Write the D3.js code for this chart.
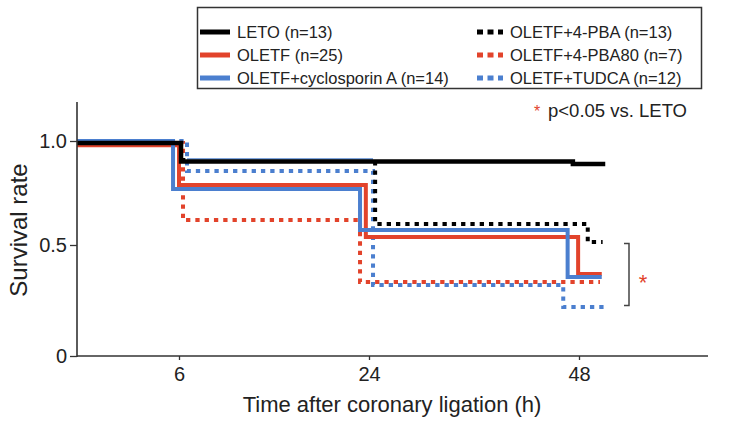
<!DOCTYPE html>
<html><head><meta charset="utf-8">
<script src="https://cdn.jsdelivr.net/npm/d3@7"></script>
<style>
body{margin:0;background:#fff}
text{font-family:Arial,"Liberation Sans",Helvetica,sans-serif;fill:#222}
</style>
</head><body>
<svg id="c" width="738" height="421"></svg>
<script>
// ---------- data ----------
const timeTicks = [6, 24, 48];
const timeTickLabels = ["6", "24", "48"];
const rateTicks = [0, 0.5, 1];
const rateTickLabels = ["0", "0.5", "1.0"];

// step curves: times at which the level changes, survival levels, end of follow-up (h)
const letoTimes = [0, 6.19, 47.3];   const letoRates = [0.99, 0.902, 0.890];  const letoEnd = 51.0;
const oletfTimes = [0, 6.0, 23.7, 47.9];  const oletfRates = [0.98, 0.788, 0.538, 0.369]; const oletfEnd = 50.6;
const csaTimes = [0, 5.65, 23.15, 46.7];  const csaRates = [1.0, 0.769, 0.572, 0.356];   const csaEnd = 50.6;
const pbaTimes = [0, 6.2, 24.7, 49.0];    const pbaRates = [0.99, 0.909, 0.601, 0.514];  const pbaEnd = 50.7;
const pba80Times = [0, 6.38, 23.15];      const pba80Rates = [0.99, 0.62, 0.333];        const pba80End = 50.4;
const tudcaTimes = [0, 6.76, 24.46, 46.2];const tudcaRates = [1.0, 0.856, 0.32, 0.221];  const tudcaEnd = 51.3;
// thin blue trace visible just above the LETO line between 6 h and 24 h
const traceTimes = [6.76];                const traceRates = [0.913];                    const traceEnd = 24.46;

const legendLabels = ["LETO (n=13)", "OLETF (n=25)", "OLETF+cyclosporin A (n=14)",
                      "OLETF+4-PBA (n=13)", "OLETF+4-PBA80 (n=7)", "OLETF+TUDCA (n=12)"];

// ---------- styles ----------
const RED = "#e2432b", BLUE = "#4b7fcf", BLACK = "#000";
const series = [
  {t: pba80Times, v: pba80Rates, end: pba80End, color: RED,   dotted: true,  w: 4},
  {t: tudcaTimes, v: tudcaRates, end: tudcaEnd, color: BLUE,  dotted: true,  w: 4},
  {t: pbaTimes,   v: pbaRates,   end: pbaEnd,   color: BLACK, dotted: true,  w: 4},
  {t: traceTimes, v: traceRates, end: traceEnd, color: "#7ea4dc", dotted: false, w: 2},
  {t: oletfTimes, v: oletfRates, end: oletfEnd, color: RED,   dotted: false, w: 4},
  {t: csaTimes,   v: csaRates,   end: csaEnd,   color: BLUE,  dotted: false, w: 4},
  {t: letoTimes,  v: letoRates,  end: letoEnd,  color: BLACK, dotted: false, w: 4.5}
];
const legendStyles = [
  {color: BLACK, dotted: false}, {color: RED, dotted: false}, {color: BLUE, dotted: false},
  {color: BLACK, dotted: true},  {color: RED, dotted: true},  {color: BLUE, dotted: true}
];

const svg = d3.select("#c");

// piecewise time axis as in the figure
const x = d3.scaleLinear().domain([0, 6, 24, 48]).range([77, 179, 369, 579]);
const y = d3.scaleLinear().domain([0, 0.5, 1]).range([356, 245, 141]);

// curves
const line = d3.line().x(d => x(d[0])).y(d => y(d[1])).curve(d3.curveStepAfter);
series.forEach(s => {
  const pts = s.t.map((t, i) => [t, s.v[i]]);
  pts.push([s.end, s.v[s.v.length - 1]]);
  svg.append("path").attr("d", line(pts))
    .attr("fill", "none").attr("stroke", s.color).attr("stroke-width", s.w)
    .attr("stroke-linecap", "butt").attr("stroke-linejoin", "miter")
    .attr("stroke-dasharray", s.dotted ? "4.3,5" : null);
});

// axes
const axisColor = "#333";
const xAxis = svg.append("g").attr("transform", "translate(0,356)")
  .call(d3.axisBottom(x).tickValues(timeTicks).tickSize(4)
    .tickFormat((d, i) => timeTickLabels[i]));
xAxis.select(".domain").remove();
xAxis.selectAll(".tick line").attr("stroke", axisColor).attr("stroke-width", 1.3);
xAxis.selectAll(".tick text").attr("y", 25).attr("dy", 0)
  .attr("font-size", 20).attr("fill", "#222").style("font-family", "Arial, 'Liberation Sans', sans-serif");
svg.append("line").attr("x1", 77).attr("x2", 708).attr("y1", 356).attr("y2", 356)
  .attr("stroke", axisColor).attr("stroke-width", 1.6);

const yAxis = svg.append("g").attr("transform", "translate(77,0)")
  .call(d3.axisLeft(y).tickValues(rateTicks).tickSize(7).tickPadding(3)
    .tickFormat((d, i) => rateTickLabels[i]));
yAxis.select(".domain").remove();
yAxis.selectAll(".tick line").attr("stroke", axisColor).attr("stroke-width", 1.3);
yAxis.selectAll(".tick text").attr("font-size", 20).attr("fill", "#222")
  .style("font-family", "Arial, 'Liberation Sans', sans-serif");
svg.append("line").attr("x1", 77).attr("x2", 77).attr("y1", 102).attr("y2", 357)
  .attr("stroke", axisColor).attr("stroke-width", 1.6);

// axis titles
svg.append("text").attr("x", 392).attr("y", 412).attr("text-anchor", "middle")
  .attr("font-size", 22).text("Time after coronary ligation (h)");
svg.append("text").attr("transform", "translate(27,230) rotate(-90)")
  .attr("text-anchor", "middle").attr("font-size", 24).text("Survival rate");

// significance note
svg.append("text").attr("x", 537).attr("y", 117).attr("text-anchor", "middle")
  .attr("font-size", 16).style("fill", RED).text("*");
svg.append("text").attr("x", 548).attr("y", 117).attr("font-size", 18.5).text("p<0.05 vs. LETO");

// bracket + asterisk
svg.append("path").attr("d", "M624,243.5H629V305.5H624").attr("fill", "none")
  .attr("stroke", "#444").attr("stroke-width", 1.5);
svg.append("text").attr("x", 643).attr("y", 290).attr("text-anchor", "middle")
  .attr("font-size", 22).style("fill", RED).text("*");

// legend
svg.append("rect").attr("x", 197.5).attr("y", 7.5).attr("width", 504).attr("height", 81)
  .attr("fill", "#fff").attr("stroke", "#333").attr("stroke-width", 1.5);
legendLabels.forEach((lab, i) => {
  const col = Math.floor(i / 3), row = i % 3;
  const cy = 32 + row * 23;
  const st = legendStyles[i];
  const x0 = col === 0 ? 200 : 477, x1 = col === 0 ? 230 : 503;
  svg.append("line").attr("x1", x0).attr("x2", x1).attr("y1", cy).attr("y2", cy)
    .attr("stroke", st.color).attr("stroke-width", 5)
    .attr("stroke-dasharray", st.dotted ? "6,4.5" : null);
  svg.append("text").attr("x", col === 0 ? 237 : 510).attr("y", cy + 6)
    .attr("font-size", 16.5).text(lab);
});
</script>
</body></html>
